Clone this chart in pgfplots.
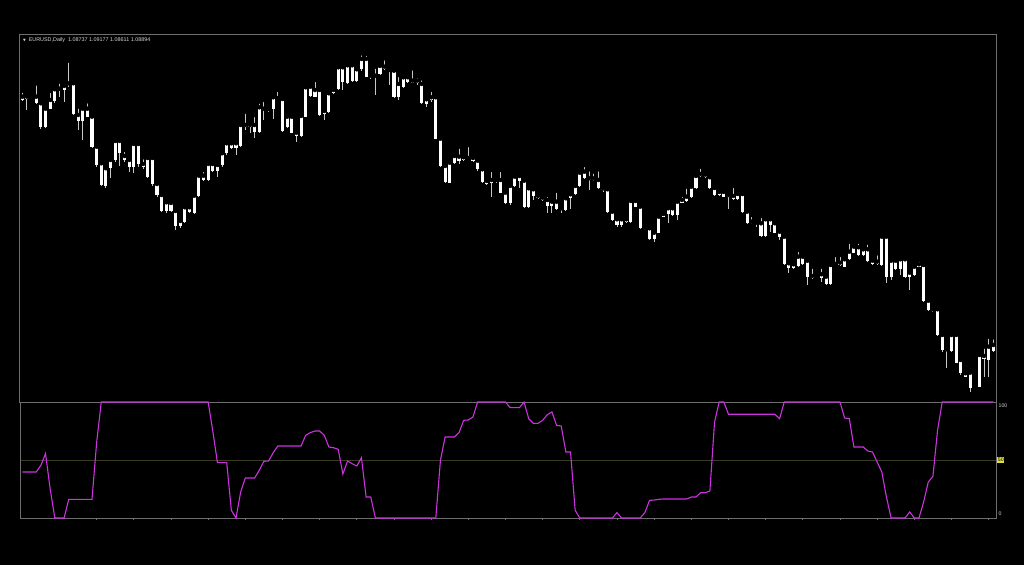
\documentclass[border=0pt]{standalone}
\usepackage{pgfplots}
\pgfplotsset{compat=1.18}
\usepackage{pgfplotstable}
\usepackage{fontspec}
\setmainfont{Liberation Sans}
\newfontfamily\symfont{DejaVu Sans}

\definecolor{framegray}{RGB}{110,110,110}
\definecolor{wickgray}{RGB}{200,200,200}
\definecolor{levelolive}{RGB}{58,60,34}
\definecolor{oscmag}{RGB}{205,50,225}
\definecolor{lvlyellow}{RGB}{225,225,60}
\definecolor{labelgray}{RGB}{215,215,215}

% candles: bar index, body top, body bottom, wick top, wick bottom (screen rows, top = small)
\pgfplotstableread{
i bt bb wt wb
0 96.7 100.0 90.7 100.7
1 96.7 98.7 95.0 110.0
2 96.7 98.0 96.0 98.7
3 96.7 103.3 83.3 104.0
4 103.3 127.3 101.7 128.7
5 108.7 127.3 107.3 128.0
6 100.0 108.7 91.0 109.3
7 89.3 101.3 88.3 102.7
8 88.7 90.0 81.7 96.7
9 86.0 90.0 83.3 101.7
10 83.3 85.3 60.7 86.7
11 83.3 114.0 80.0 115.0
12 115.0 120.7 106.7 130.0
13 108.7 120.7 107.3 140.0
14 108.7 116.7 101.3 117.3
15 116.7 147.3 116.0 148.3
16 146.7 165.0 145.0 166.7
17 163.3 185.0 161.7 186.0
18 168.3 186.0 165.0 188.3
19 160.0 168.3 158.3 178.3
20 141.0 160.0 140.0 161.7
21 141.0 153.3 140.0 166.0
22 156.0 160.0 150.0 161.7
23 160.0 167.3 158.3 171.7
24 144.0 167.3 142.7 172.7
25 144.0 164.0 141.7 166.7
26 164.0 167.3 157.3 169.3
27 158.0 176.7 154.0 178.3
28 158.0 184.0 156.7 186.0
29 184.0 195.0 183.3 196.7
30 195.0 211.0 193.3 211.7
31 202.3 211.0 200.0 212.7
32 203.0 211.0 201.7 211.7
33 211.0 226.0 208.3 230.0
34 221.0 226.0 218.3 228.3
35 207.3 221.7 205.0 223.3
36 207.3 211.7 205.0 212.7
37 195.7 213.0 193.3 214.0
38 175.7 195.7 173.3 196.7
39 175.7 179.7 170.0 180.7
40 164.0 179.7 161.7 180.7
41 164.0 170.7 161.7 171.7
42 165.0 171.3 163.3 176.7
43 153.3 165.0 151.7 166.7
44 143.3 153.3 141.7 155.0
45 143.3 148.3 140.0 149.3
46 143.3 148.3 139.3 155.0
47 125.0 146.0 123.3 147.3
48 125.0 126.7 111.7 130.0
49 125.0 126.7 121.7 133.3
50 125.0 132.3 115.0 138.3
51 107.3 132.3 101.7 133.3
52 108.7 110.0 100.0 120.0
53 109.0 110.3 108.3 111.7
54 97.3 109.0 96.7 119.3
55 98.0 99.3 90.0 100.0
56 99.0 130.7 98.3 131.7
57 116.7 127.3 112.7 128.3
58 116.7 132.7 116.0 133.3
59 132.7 135.7 131.7 141.7
60 116.0 135.7 115.0 136.7
61 87.3 116.7 83.3 117.3
62 86.7 96.0 85.7 96.7
63 90.0 96.7 80.0 97.3
64 90.0 115.0 89.3 116.0
65 111.0 114.3 110.0 120.0
66 93.3 112.0 92.7 112.7
67 90.0 92.7 88.3 94.0
68 67.3 89.3 64.0 90.0
69 67.3 81.7 66.7 90.0
70 65.3 83.3 64.7 84.0
71 65.3 81.0 62.7 81.7
72 69.3 80.7 68.3 81.7
73 59.0 69.3 53.3 70.7
74 59.0 76.7 54.0 77.3
75 75.7 77.0 73.3 79.3
76 75.7 77.0 66.7 95.0
77 66.0 74.0 65.0 75.0
78 66.7 69.3 58.3 70.0
79 70.0 71.0 69.3 85.0
80 70.7 96.7 70.0 98.3
81 84.0 96.7 75.0 100.0
82 77.3 86.7 76.0 88.3
83 77.3 82.0 73.3 83.3
84 80.7 82.7 68.3 83.3
85 80.7 82.7 76.0 85.0
86 84.0 102.7 78.3 104.0
87 99.3 104.0 98.3 106.7
88 97.3 100.0 90.0 101.7
89 97.3 138.7 96.7 139.3
90 138.7 166.0 137.3 167.3
91 166.0 181.7 165.0 183.3
92 162.7 182.7 161.7 183.3
93 156.0 163.3 155.0 164.0
94 156.7 160.7 146.7 164.0
95 157.3 160.0 156.0 160.7
96 158.0 159.3 145.0 160.0
97 158.0 160.7 157.3 161.7
98 160.7 169.3 159.3 170.7
99 169.3 181.7 168.3 182.7
100 181.0 184.0 180.0 185.0
101 180.0 182.7 170.0 196.7
102 180.0 181.0 178.3 183.3
103 180.0 192.7 170.0 193.3
104 192.7 202.7 191.7 204.0
105 186.0 202.7 185.0 205.0
106 176.7 186.0 175.0 187.3
107 176.0 180.7 175.0 188.3
108 180.7 207.3 180.0 208.3
109 188.3 207.3 187.3 208.3
110 189.3 196.0 188.3 200.0
111 196.0 198.3 195.0 199.3
112 197.7 200.0 196.7 200.7
113 200.0 206.0 195.0 213.3
114 201.7 206.0 200.7 213.3
115 201.7 209.3 190.7 210.0
116 208.3 210.0 207.3 213.3
117 198.3 210.0 196.7 210.7
118 194.3 198.3 193.3 209.3
119 186.0 194.3 185.0 195.0
120 172.7 186.0 171.7 186.7
121 171.7 178.3 165.0 179.3
122 178.3 180.0 169.3 190.0
123 178.3 180.0 171.7 180.7
124 180.0 188.3 169.3 189.3
125 188.3 190.0 187.3 191.7
126 189.3 211.7 188.3 212.7
127 211.7 220.0 210.7 220.7
128 219.3 225.0 218.3 226.7
129 219.3 225.0 218.3 226.7
130 219.3 221.7 218.3 222.7
131 201.0 221.7 198.3 222.7
132 201.0 206.7 200.0 207.3
133 206.7 228.3 206.0 229.3
134 227.7 229.3 226.7 230.0
135 228.3 239.3 227.3 240.0
136 232.7 239.3 231.7 241.7
137 216.7 232.7 216.0 233.3
138 214.0 216.7 211.7 217.3
139 208.3 214.0 206.7 223.3
140 208.3 215.0 207.3 216.0
141 201.7 215.0 200.0 220.0
142 200.0 202.7 195.0 203.3
143 196.7 200.7 186.7 201.7
144 186.7 197.3 185.0 198.3
145 176.0 188.0 175.0 189.0
146 174.0 176.0 166.7 176.7
147 174.7 177.3 173.3 178.3
148 177.3 188.0 176.7 189.0
149 188.0 195.0 184.0 196.0
150 192.0 195.0 190.0 196.0
151 192.0 196.7 190.7 197.3
152 195.0 196.7 194.0 209.3
153 196.0 199.3 186.0 200.0
154 194.0 199.3 191.7 200.0
155 194.0 211.7 193.3 212.7
156 211.7 223.3 210.7 224.0
157 221.7 223.3 215.0 224.0
158 222.7 224.0 221.7 226.7
159 223.3 236.0 216.0 236.7
160 219.3 236.0 218.3 236.7
161 219.3 225.0 218.3 231.7
162 223.3 232.7 222.7 233.3
163 231.7 236.7 230.7 240.0
164 236.7 264.0 236.0 265.0
165 263.3 268.3 262.7 273.3
166 264.3 268.3 263.3 269.3
167 256.7 266.0 250.0 266.7
168 256.7 264.0 256.0 265.0
169 260.7 277.3 260.0 285.0
170 276.0 278.3 266.7 279.3
171 276.0 277.3 275.0 278.3
172 274.3 278.3 266.7 281.7
173 276.7 284.0 276.0 285.0
174 265.0 284.0 264.0 285.0
175 264.0 265.0 255.0 266.0
176 262.7 265.0 255.0 266.0
177 259.3 266.7 256.7 267.3
178 251.7 259.3 241.7 260.0
179 246.7 252.7 243.3 253.3
180 247.3 255.0 241.7 256.0
181 249.3 255.0 248.3 256.0
182 249.3 260.7 242.7 261.7
183 260.7 264.0 260.0 265.0
184 261.7 264.0 253.3 265.0
185 236.7 265.0 235.0 266.0
186 236.7 276.7 235.0 282.7
187 260.7 276.7 259.3 280.0
188 260.7 269.3 259.3 270.0
189 259.3 269.3 258.3 275.0
190 259.3 276.7 258.3 278.3
191 272.7 277.3 271.7 290.0
192 266.7 275.0 266.0 276.0
193 264.3 266.7 260.0 267.3
194 265.0 300.7 264.0 301.7
195 300.7 310.0 300.0 310.7
196 309.3 310.7 306.0 311.7
197 309.3 335.0 308.3 336.0
198 335.0 350.0 334.0 351.7
199 349.3 350.7 345.0 368.3
200 335.0 350.7 334.0 351.7
201 335.0 362.7 334.0 363.3
202 360.0 373.3 359.3 375.0
203 373.3 376.7 371.7 377.3
204 372.7 388.3 371.7 391.7
205 386.7 388.3 386.0 389.3
206 355.0 386.7 354.0 387.3
207 356.0 359.3 346.7 376.7
208 346.7 360.0 336.7 376.7
209 345.0 350.7 337.3 351.7
}\candles

% oscillator, 0..100
\pgfplotstableread{
i v
0 39.7
1 39.7
2 39.7
3 39.7
4 45.4
5 55.5
6 25
7 0
8 0
9 0
10 16.1
11 16.1
12 16.1
13 16.1
14 16.1
15 16.1
16 65
17 100
18 100
19 100
20 100
21 100
22 100
23 100
24 100
25 100
26 100
27 100
28 100
29 100
30 100
31 100
32 100
33 100
34 100
35 100
36 100
37 100
38 100
39 100
40 100
41 75
42 47.7
43 47.7
44 47.7
45 6.6
46 0
47 22.4
48 34.5
49 34.5
50 34.5
51 41.1
52 48.9
53 49.1
54 56.3
55 62.1
56 62.1
57 62.1
58 62.1
59 62.1
60 62.1
61 71.3
62 73.6
63 75
64 75
65 71.3
66 61.2
67 60.6
68 59.2
69 37.9
70 49.1
71 46.8
72 44.8
73 52
74 18.1
75 18.1
76 0
77 0
78 0
79 0
80 0
81 0
82 0
83 0
84 0
85 0
86 0
87 0
88 0
89 0
90 49.7
91 69.8
92 69.8
93 69.8
94 73.6
95 84.2
96 84.5
97 87.1
98 100
99 100
100 100
101 100
102 100
103 100
104 100
105 95.1
106 95.1
107 95.1
108 100
109 85.6
110 81.6
111 81.6
112 84.2
113 89.1
114 91.4
115 79.9
116 79.3
117 56.9
118 56.9
119 6.6
120 0
121 0
122 0
123 0
124 0
125 0
126 0
127 0
128 4.6
129 0
130 0
131 0
132 0
133 0
134 4.6
135 15.2
136 15.5
137 16.1
138 16.4
139 16.4
140 16.4
141 16.4
142 16.4
143 16.4
144 18.1
145 18.1
146 21.8
147 21.8
148 23.3
149 82.8
150 100
151 100
152 89.4
153 89.4
154 89.4
155 89.4
156 89.4
157 89.4
158 89.4
159 89.4
160 89.4
161 89.4
162 89.4
163 85.6
164 100
165 100
166 100
167 100
168 100
169 100
170 100
171 100
172 100
173 100
174 100
175 100
176 100
177 86.2
178 85.6
179 61.2
180 61.2
181 61.2
182 57.8
183 56.9
184 48.3
185 39.7
186 18.1
187 0
188 0
189 0
190 0
191 5.2
192 0
193 0
194 13.8
195 31
196 35.9
197 75.6
198 100
199 100
200 100
201 100
202 100
203 100
204 100
205 100
206 100
207 100
208 100
209 100
}\osc

\begin{document}
\begin{tikzpicture}
\fill[black] (0,0) rectangle (1024pt,565pt);

% price pane
\begin{axis}[
  at={(20pt,163pt)}, anchor=south west,
  width=976.5pt, height=367pt, scale only axis,
  xmin=-0.495, xmax=209.69,
  ymin=35, ymax=402, y dir=reverse,
  xtick=\empty, ytick=\empty,
  axis line style={draw=framegray, line width=1pt},
  clip=false,
]
\addplot[only marks, mark=none,
  error bars/.cd, y dir=plus, y explicit, error mark=none,
  error bar style={draw=wickgray, line width=0.9pt}]
  table[x=i, y=wt, y error plus expr=\thisrow{wb}-\thisrow{wt}] {\candles};
\addplot[only marks, mark=none,
  error bars/.cd, y dir=plus, y explicit, error mark=none,
  error bar style={draw=white, line width=3.1pt}]
  table[x=i, y=bt, y error plus expr={max(\thisrow{bb}-\thisrow{bt},1.3)}] {\candles};
\node[anchor=west, inner sep=0pt, text=labelgray, font=\fontsize{5.4}{6}\selectfont]
  at (axis description cs:0.003,0.986)
  {{\symfont\fontsize{3.5}{4}\selectfont ▼}\ \ EURUSD,Daily\ \ 1.08737 1.09177 1.08611 1.08894};
\end{axis}

% oscillator pane
\begin{axis}[
  at={(20pt,47pt)}, anchor=south west,
  width=976.5pt, height=116pt, scale only axis,
  xmin=-0.495, xmax=209.69, ymin=0, ymax=100,
  xtick={16,24,...,208}, xticklabel=\empty, xtick pos=bottom,
  tick align=outside, major tick length=2pt,
  xtick style={draw=framegray, line width=0.8pt},
  ytick={50}, yticklabel=\empty, ytick style={draw=none},
  ymajorgrids, grid style={draw=levelolive, line width=1pt},
  axis line style={draw=framegray, line width=1pt},
  clip=false,
]
\addplot[draw=oscmag, line width=1.1pt, mark=none] table[x=i, y=v] {\osc};
\node[anchor=north west, inner sep=0pt, text=labelgray, font=\fontsize{5.2}{6}\selectfont]
  at ([xshift=2pt,yshift=-2pt]axis description cs:1,1) {100};
\node[anchor=west, inner sep=0.7pt, fill=lvlyellow, text=black, font=\fontsize{5.2}{6}\selectfont]
  at ([xshift=0.5pt]axis description cs:1,0.5) {50};
\node[anchor=south west, inner sep=0pt, text=labelgray, font=\fontsize{5.2}{6}\selectfont]
  at ([xshift=2pt,yshift=2pt]axis description cs:1,0) {0};
\end{axis}
\end{tikzpicture}
\end{document}
